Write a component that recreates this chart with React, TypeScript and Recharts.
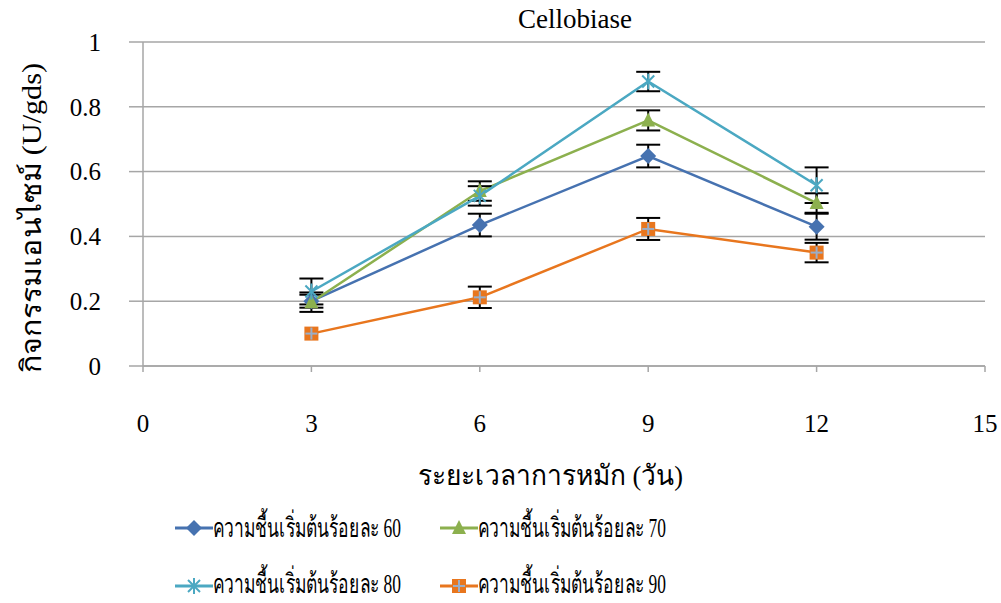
import React from "react"
import {
  CartesianGrid,
  ErrorBar,
  Line,
  LineChart,
  XAxis,
  YAxis,
} from "recharts"

const days = [3, 6, 9, 12]
const m60 = [0.2, 0.435, 0.648, 0.43]
const e60 = [0.02, 0.035, 0.035, 0.04]
const m70 = [0.197, 0.54, 0.758, 0.503]
const e70 = [0.03, 0.03, 0.031, 0.03]
const m80 = [0.23, 0.525, 0.878, 0.558]
const e80 = [0.04, 0.03, 0.03, 0.055]
const m90 = [0.1, 0.212, 0.423, 0.35]
const e90 = [null, 0.033, 0.034, 0.03]

const xTicks = [0, 3, 6, 9, 12, 15]
const yTicks = [0, 0.2, 0.4, 0.6, 0.8, 1]

const legendLabels = [
  "ความชื้นเริ่มต้นร้อยละ 60",
  "ความชื้นเริ่มต้นร้อยละ 70",
  "ความชื้นเริ่มต้นร้อยละ 80",
  "ความชื้นเริ่มต้นร้อยละ 90",
]

const data = days.map((d, i) => ({
  day: d,
  m60: m60[i],
  e60: e60[i],
  m70: m70[i],
  e70: e70[i],
  m80: m80[i],
  e80: e80[i],
  m90: m90[i],
  e90: e90[i],
}))

const FONT = "'Liberation Serif', 'Times New Roman', serif"
const colors = ["#4672b0", "#8cb04e", "#4ba8c2", "#e8761e"]
const kinds = ["diamond", "triangle", "star", "square"]
const txt = { fill: "#000", fontFamily: FONT }

function Marker({ kind, cx, cy, color }: { kind: string; cx: number; cy: number; color: string }) {
  if (kind === "diamond") {
    return <polygon points={`${cx},${cy - 8} ${cx + 8},${cy} ${cx},${cy + 8} ${cx - 8},${cy}`} fill={color} />
  }
  if (kind === "triangle") {
    return <polygon points={`${cx},${cy - 8} ${cx + 7},${cy + 6} ${cx - 7},${cy + 6}`} fill={color} />
  }
  if (kind === "star") {
    return (
      <g stroke={color} strokeWidth={2}>
        <line x1={cx - 6} y1={cy - 6} x2={cx + 6} y2={cy + 6} />
        <line x1={cx - 6} y1={cy + 6} x2={cx + 6} y2={cy - 6} />
        <line x1={cx} y1={cy - 8} x2={cx} y2={cy + 8} />
      </g>
    )
  }
  return (
    <g>
      <rect x={cx - 7} y={cy - 7} width={14} height={14} fill={color} />
      <line x1={cx - 6} y1={cy} x2={cx + 6} y2={cy} stroke="#9aaec8" strokeWidth={2} />
      <line x1={cx} y1={cy - 6} x2={cx} y2={cy + 6} stroke="#9aaec8" strokeWidth={2} />
    </g>
  )
}

const dotFor = (i: number) => (p: any) => (
  <Marker key={`d${i}-${p.index}`} kind={kinds[i]} cx={p.cx} cy={p.cy} color={colors[i]} />
)

function Overlay() {
  const pos = [
    { x: 175, y: 528, b: 537 },
    { x: 440, y: 528, b: 537 },
    { x: 175, y: 586, b: 593 },
    { x: 440, y: 586, b: 593 },
  ]
  const sx = 0.68
  return (
    <svg width={1001} height={603} style={{ position: "absolute", left: 0, top: 0, pointerEvents: "none" }}>
      <text x={575} y={28} textAnchor="middle" style={{ ...txt, fontSize: 27 }}>
        Cellobiase
      </text>
      <text
        x={418}
        y={485}
        textLength={265}
        lengthAdjust="spacingAndGlyphs"
        style={{ ...txt, fontSize: 28 }}
      >
        ระยะเวลาการหมัก (วัน)
      </text>
      <text
        x={41}
        y={373}
        transform="rotate(-90, 41, 373)"
        textLength={310}
        lengthAdjust="spacingAndGlyphs"
        style={{ ...txt, fontSize: 28 }}
      >
        กิจกรรมเอนไซม์ (U/gds)
      </text>
      {legendLabels.map((t, i) => (
        <g key={t}>
          <line x1={pos[i].x} y1={pos[i].y} x2={pos[i].x + 38} y2={pos[i].y} stroke={colors[i]} strokeWidth={3} />
          <Marker kind={kinds[i]} cx={pos[i].x + 19} cy={pos[i].y} color={colors[i]} />
          <g transform={`translate(${pos[i].x + 38}, ${pos[i].b}) scale(${sx}, 1)`}>
            <text
              x={0}
              y={0}
              textLength={188 / sx}
              lengthAdjust="spacingAndGlyphs"
              style={{ ...txt, fontSize: 27 }}
            >
              {t}
            </text>
          </g>
        </g>
      ))}
    </svg>
  )
}

export default function App() {
  const series = ["m60", "m70", "m80", "m90"]
  const errs = ["e60", "e70", "e80", "e90"]
  return (
    <div style={{ position: "absolute", left: 0, top: 0, width: 1001, height: 603, background: "#fff" }}>
      <LineChart width={1001} height={603} data={data} margin={{ top: 42, right: 16, bottom: 117, left: 0 }}>
        <CartesianGrid vertical={false} stroke="#a6a6a6" strokeWidth={1.5} />
        <XAxis
          dataKey="day"
          type="number"
          domain={[0, 15]}
          ticks={xTicks}
          height={120}
          tickSize={6}
          tickMargin={42}
          stroke="#a6a6a6"
          strokeWidth={1.5}
          tick={{ ...txt, fontSize: 25 }}
        />
        <YAxis
          type="number"
          domain={[0, 1]}
          ticks={yTicks}
          width={143}
          tickSize={14}
          tickMargin={28}
          stroke="#a6a6a6"
          strokeWidth={1.5}
          tick={{ ...txt, fontSize: 25 }}
          tickFormatter={(v: number) => String(v)}
        />
        {series.map((s, i) => (
          <Line
            key={s}
            dataKey={s}
            stroke={colors[i]}
            strokeWidth={2.5}
            dot={dotFor(i)}
            activeDot={false}
            isAnimationActive={false}
          >
            <ErrorBar dataKey={errs[i]} direction="y" width={12} stroke="#000" strokeWidth={2} />
          </Line>
        ))}
      </LineChart>
      <Overlay />
    </div>
  )
}
